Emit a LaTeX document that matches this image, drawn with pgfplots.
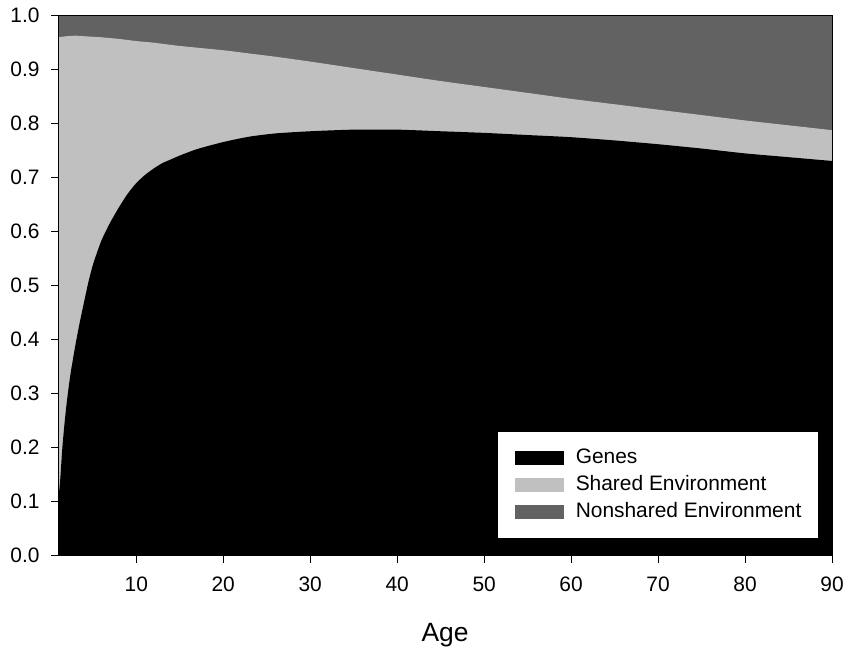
\documentclass[border=0pt]{standalone}
\usepackage{fontspec}
\setmainfont{Liberation Sans}
\usepackage{pgfplots}
\pgfplotsset{compat=1.18}

\definecolor{nonshared}{RGB}{98,98,98}
\definecolor{shared}{RGB}{192,192,192}

\begin{document}
\begin{tikzpicture}
\begin{axis}[
    scale only axis,
    width=774bp, height=540bp,
    xmin=1, xmax=90, ymin=0, ymax=1,
    xtick={10,20,...,90},
    ytick={0,0.1,...,1.0},
    yticklabel style={/pgf/number format/fixed, /pgf/number format/fixed zerofill,
        /pgf/number format/precision=1, xshift=-8bp},
    /pgf/number format/assume math mode=true,
    tick align=outside,
    xtick pos=bottom, ytick pos=left,
    major tick length=7bp,
    tick style={black, line width=0.8bp},
    axis line style={line width=0.8bp},
    ticklabel style={font=\fontsize{21}{25}\selectfont},
    xticklabel style={yshift=-11bp},
    xlabel={Age},
    xlabel style={font=\fontsize{26.5}{31}\selectfont, yshift=-24bp},
    axis on top,
    reverse legend,
    legend cell align=left,
    legend style={at={(0.567,0.231)}, anchor=north west, draw=black, line width=0.8bp,
        fill=white, font=\fontsize{21}{25}\selectfont,
        nodes={inner sep=0pt, text height=15bp, text depth=4bp},
        inner xsep=17.5bp, inner ysep=17.5bp, row sep=7.7bp, column sep=12bp},
    legend image code/.code={\fill[#1] (0bp,-7bp) rectangle (49bp,7bp);},
]
\addplot[fill=nonshared, draw=none] coordinates {(1,1) (90,1)} \closedcycle;
\addlegendentry{Nonshared Environment}

\addplot[fill=shared, draw=none, smooth] coordinates {
(1,0.960) (2,0.962) (3,0.963) (4,0.962) (5,0.961) (6,0.960) (8,0.957)
(10,0.953) (12,0.950) (15,0.944) (20,0.936) (23,0.930) (26,0.924)
(30,0.915) (35,0.903) (40,0.891) (45,0.879) (50,0.868) (55,0.857)
(60,0.846) (65,0.836) (70,0.826) (75,0.816) (80,0.806) (85,0.797) (90,0.788)
} \closedcycle;
\addlegendentry{Shared Environment}

\addplot[fill=black, draw=none, smooth, tension=0.4] coordinates {
(1,0.098) (1.25,0.14) (1.5,0.2) (1.75,0.245) (2,0.283) (2.25,0.315)
(2.5,0.343) (3,0.39) (3.5,0.432) (4,0.47) (4.5,0.507) (5,0.538) (5.5,0.562)
(6,0.584) (6.5,0.601) (7,0.617) (8,0.645) (9,0.67) (10,0.69) (11,0.705)
(12,0.717) (13,0.727) (14,0.734) (15,0.741) (17,0.753) (20,0.766)
(23,0.776) (26,0.782) (30,0.786) (35,0.789) (40,0.789) (45,0.786)
(50,0.783) (55,0.779) (60,0.775) (65,0.769) (70,0.762) (75,0.754)
(80,0.745) (85,0.738) (90,0.731)
} \closedcycle;
\addlegendentry{Genes}

\coordinate (bl) at (rel axis cs:0,0);
\coordinate (tr) at (rel axis cs:1,1);
\end{axis}
\pgfresetboundingbox
\path ([shift={(-58bp,-93.3bp)}]bl) rectangle ([shift={(16bp,15.7bp)}]tr);
\end{tikzpicture}
\end{document}
